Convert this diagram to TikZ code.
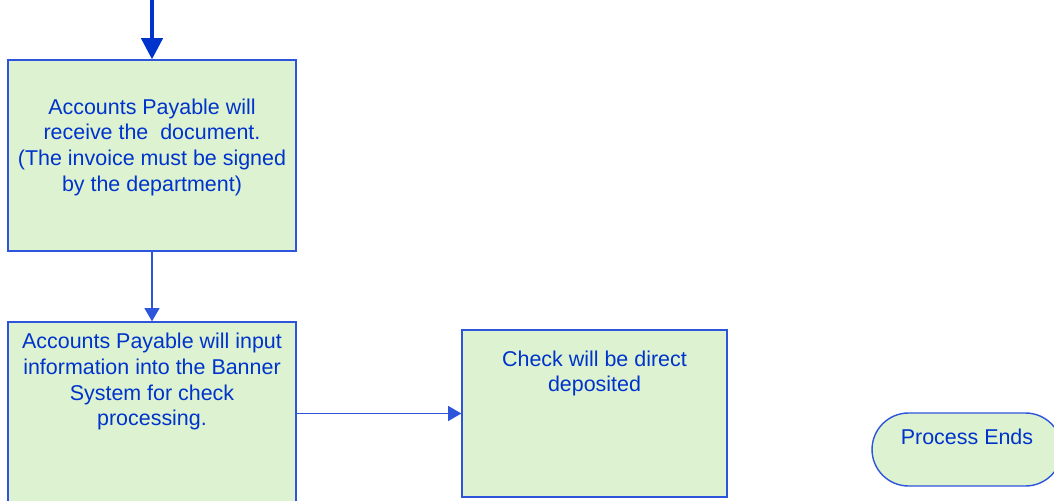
\documentclass[tikz,border=0pt]{standalone}
\usepackage{fontspec}
\setmainfont{Liberation Sans}
\usetikzlibrary{positioning, calc, arrows.meta}
\definecolor{stepfill}{RGB}{220,242,208}
\definecolor{stepdraw}{RGB}{45,85,220}
\definecolor{steptext}{RGB}{0,51,204}

\begin{document}
\begin{tikzpicture}[
            x=0.02cm, y=-0.02cm,
            proc/.style={rectangle, draw=stepdraw, fill=stepfill, line width=0.8pt, inner sep=0pt},
            term/.style={proc, rounded corners=0.73cm},
            txt/.style={anchor=north, align=center, inner sep=0pt, text=steptext, font=\fontsize{12.2}{14.6}\selectfont},
            flow/.style={-{Triangle[width=8.5pt, length=7.5pt]}, stepdraw, line width=0.8pt},
            bigflow/.style={-{Triangle[width=12pt, length=12pt]}, steptext, line width=2.2pt}
        ]
            \useasboundingbox (0,0) rectangle (1054,500);
            \clip (0,0) rectangle (1054,500);

            % --- Node Placement ---
            \node[proc, minimum width=5.76cm, minimum height=3.82cm,
                  label={[txt, yshift=-0.78cm]north:Accounts Payable will\\receive the\ \ document.\\(The invoice must be signed\\by the department)}]
                  (receive) at (152,155.5) {};
            \node[proc, minimum width=5.76cm, minimum height=4.2cm,
                  label={[txt, yshift=-0.23cm]north:Accounts Payable will input\\information into the Banner\\System for check\\processing.}]
                  (input) at (152,427) {};
            \node[proc, minimum width=5.3cm, minimum height=3.34cm,
                  label={[txt, yshift=-0.42cm]north:Check will be direct\\deposited}]
                  (deposit) at (594.5,413.5) {};
            \node[term, minimum width=3.8cm, minimum height=1.46cm,
                  label={[txt, yshift=-0.32cm]north:Process Ends}]
                  (ends) at (967,449.5) {};
            \coordinate (start) at (152,0);

            % --- Link Drawing ---
            \draw[bigflow] (start) -- (receive.north);
            \draw[flow] (receive.south) -- (input.north);
            \draw[flow] (input.east |- deposit.west) -- (deposit.west);

        \end{tikzpicture}
\end{document}
